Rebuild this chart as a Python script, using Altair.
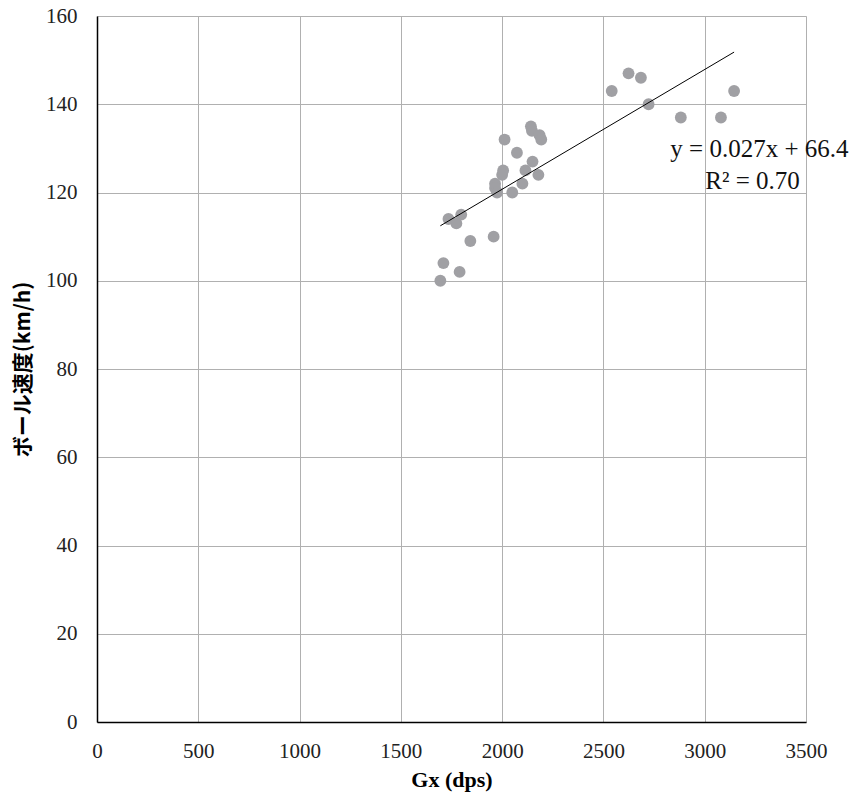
import altair as alt
import pandas as pd

gx = [1695, 1710, 1790, 1843, 1958, 1735, 1774, 1798, 1965, 1965, 1975, 2005, 2000,
      2012, 2050, 2073, 2100, 2115, 2150, 2179, 2142, 2147, 2185, 2193,
      2541, 2624, 2685, 2723, 2882, 3080, 3145]
speed = [100, 104, 102, 109, 110, 114, 113, 115, 122, 121, 120, 125, 124,
         132, 120, 129, 122, 125, 127, 124, 135, 134, 133, 132,
         143, 147, 146, 140, 137, 137, 143]

eq_text = ["y = 0.027x + 66.4", "R² = 0.70"]
eq_x = [2830, 3003]
eq_y = [128.1, 120.8]

df = pd.DataFrame({"gx": gx, "speed": speed})
ann = pd.DataFrame({"t": eq_text, "x": eq_x, "y": eq_y})

SERIF = "Liberation Serif"

xscale = alt.Scale(domain=[0, 3500], nice=False)
yscale = alt.Scale(domain=[0, 160], nice=False)

xaxis = alt.Axis(values=list(range(0, 3501, 500)), format="d", title="Gx (dps)",
                 titleFont="Liberation Serif, DejaVu Serif, serif", titleFontSize=22,
                 titleFontWeight=700,
                 titleColor="#000", titlePadding=8,
                 labelFont=SERIF, labelFontSize=21, labelColor="#222", labelFlush=False,
                 labelPadding=18, ticks=False, domainColor="#000", domainWidth=1.5,
                 gridColor="#b0b0b0", gridWidth=1)
yaxis = alt.Axis(values=list(range(0, 161, 20)), format="d", title="ボール速度(km/h)",
                 titleFont="Noto Sans CJK JP", titleFontSize=21, titleFontWeight="bold",
                 titleColor="#000", titlePadding=12,
                 labelFont=SERIF, labelFontSize=21, labelColor="#222", labelFlush=False,
                 labelPadding=20, ticks=False, domainColor="#000", domainWidth=1.5,
                 gridColor="#b0b0b0", gridWidth=1)

points = alt.Chart(df).mark_circle(size=140, color="#a0a0a4", opacity=1).encode(
    x=alt.X("gx:Q", scale=xscale, axis=xaxis),
    y=alt.Y("speed:Q", scale=yscale, axis=yaxis),
)

trend = alt.Chart(df).transform_regression(
    "gx", "speed", extent=[1695, 3145]
).mark_line(color="#000", strokeWidth=1).encode(
    x=alt.X("gx:Q", scale=xscale),
    y=alt.Y("speed:Q", scale=yscale),
)

text = alt.Chart(ann).mark_text(font=SERIF, fontSize=25, align="left",
                                baseline="alphabetic", color="#111", clip=False).encode(
    x=alt.X("x:Q", scale=xscale),
    y=alt.Y("y:Q", scale=yscale),
    text="t:N",
)

chart = alt.layer(points, trend, text).properties(
    width=709, height=706,
    autosize=alt.AutoSizeParams(type="none"),
    padding={"left": 97, "top": 16, "right": 44, "bottom": 74},
).configure_view(stroke="#b0b0b0", strokeWidth=1).configure(background="white")

chart.save("out.html", embed_options={"renderer": "svg", "actions": False})
